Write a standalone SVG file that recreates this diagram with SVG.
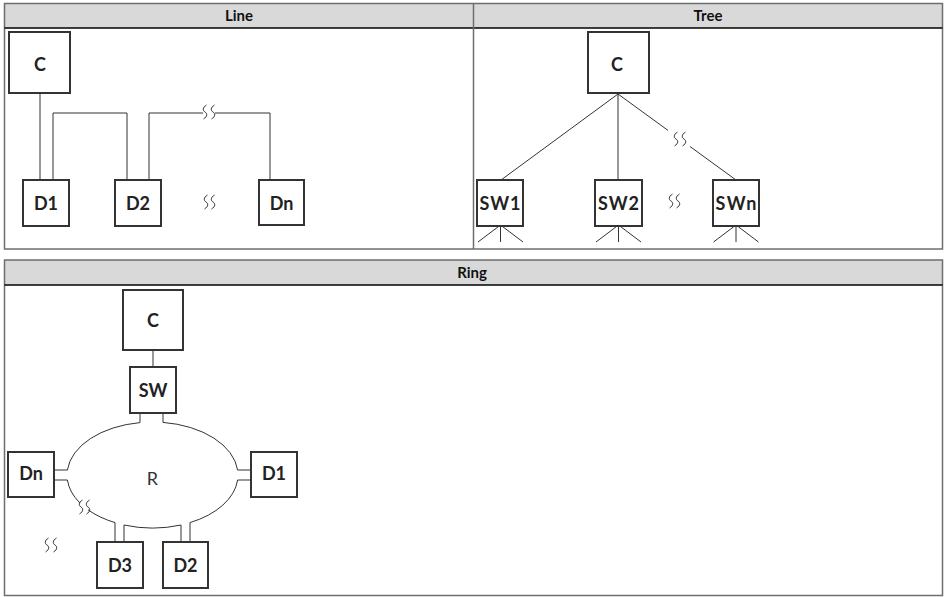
<svg xmlns="http://www.w3.org/2000/svg" xmlns:xlink="http://www.w3.org/1999/xlink" width="945" height="597" viewBox="0 0 945 597">
<style>
.tbl{fill:none;stroke:#6e6e6e;stroke-width:1.5}
.hdr{fill:#d9d9d9;stroke:none}
.sep{stroke:#000;stroke-width:1.5}
.box{fill:#fff;stroke:#333;stroke-width:2}
.lbl{font-family:Lato,"Open Sans","Liberation Sans",sans-serif;font-weight:bold;font-size:18px;fill:#222;text-anchor:middle}
.ht{font-family:Lato,"Open Sans","Liberation Sans",sans-serif;font-weight:bold;font-size:15px;fill:#111;text-anchor:middle}
.rt{font-family:Lato,"Open Sans","Liberation Sans",sans-serif;font-size:18px;fill:#333;text-anchor:middle}
.ln{fill:none;stroke:#333;stroke-width:1}
.sq{fill:none;stroke:#333;stroke-width:1}
</style>
<defs>
<path id="sq" class="sq" d="M1.5,-7 C-2.5,-4.5 -2.5,-1.5 0,0 C2.5,1.5 2.5,4.5 -1.5,7"/>
</defs>
<rect width="945" height="597" fill="#fff"/>
<g id="tables">
<rect class="hdr" x="4.5" y="3.5" width="938" height="24.5"/>
<rect class="tbl" x="4.5" y="3.5" width="938" height="245.5"/>
<line class="sep" x1="4.5" y1="28" x2="942.5" y2="28"/>
<line class="tbl" x1="473.5" y1="3.5" x2="473.5" y2="249"/>
<text class="ht" x="239" y="21">Line</text>
<text class="ht" x="708" y="21">Tree</text>
<rect class="hdr" x="4.5" y="260" width="938" height="25"/>
<rect class="tbl" x="4.5" y="260" width="938" height="335.5"/>
<line class="sep" x1="4.5" y1="285" x2="942.5" y2="285"/>
<text class="ht" x="472" y="278">Ring</text>
</g>
<g id="connectors">
<path class="ln" d="M40,93 V180"/>
<path class="ln" d="M53,180 V113 H127 V180"/>
<path class="ln" d="M149,180 V113 H203"/>
<path class="ln" d="M215,113 H270 V180"/>
<path class="ln" d="M618,94 L501,180"/>
<path class="ln" d="M618,94 V180"/>
<path class="ln" d="M618,94 L668,130.4"/>
<path class="ln" d="M690,146.5 L736,180"/>
<path class="ln" d="M500.5,225 V242 M500.5,225 L478,242 M500.5,225 L523,242"/>
<path class="ln" d="M618.5,225 V242 M618.5,225 L596,242 M618.5,225 L641,242"/>
<path class="ln" d="M736,225 V242 M736,225 L713.5,242 M736,225 L758.5,242"/>
<path class="ln" d="M153,350 V367"/>
<path class="ln" d="M163,422.4 A85.5 53 0 0 1 237.6,470"/>
<path class="ln" d="M237.6,480 A85.5 53 0 0 1 190,522.6"/>
<path class="ln" d="M181,525 A85.5 53 0 0 1 124,525"/>
<path class="ln" d="M115,522.6 A85.5 53 0 0 1 88,509.8"/>
<path class="ln" d="M80,503.1 A85.5 53 0 0 1 67.4,480"/>
<path class="ln" d="M67.4,470 A85.5 53 0 0 1 140,422.6"/>
<path class="ln" d="M140,413 V422.6 M163,413 V422.4"/>
<path class="ln" d="M237.6,470 H251 M237.6,480 H251"/>
<path class="ln" d="M54,470 H67.4 M54,480 H67.4"/>
<path class="ln" d="M115,522.6 V542 M124,525 V542"/>
<path class="ln" d="M181,525 V542 M190,522.6 V542"/>
<use xlink:href="#sq" x="205" y="112"/>
<use xlink:href="#sq" x="213" y="112"/>
<use xlink:href="#sq" x="206" y="202"/>
<use xlink:href="#sq" x="213" y="202"/>
<use xlink:href="#sq" x="676" y="139"/>
<use xlink:href="#sq" x="684" y="139"/>
<use xlink:href="#sq" x="671" y="201"/>
<use xlink:href="#sq" x="678" y="201"/>
<use xlink:href="#sq" x="81" y="507"/>
<use xlink:href="#sq" x="88" y="507"/>
<use xlink:href="#sq" x="47" y="545"/>
<use xlink:href="#sq" x="55" y="545"/>
</g>
<g id="line-C"><rect class="box" x="9" y="32" width="61" height="61"/><text class="lbl" x="40" y="71">C</text></g>
<g id="line-D1"><rect class="box" x="23" y="180" width="46" height="46"/><text class="lbl" x="46" y="210">D1</text></g>
<g id="line-D2"><rect class="box" x="115" y="180" width="46" height="46"/><text class="lbl" x="138" y="210">D2</text></g>
<g id="line-Dn"><rect class="box" x="259" y="180" width="45" height="45"/><text class="lbl" x="281.5" y="210">Dn</text></g>
<g id="tree-C"><rect class="box" x="588" y="32" width="61" height="61"/><text class="lbl" x="617" y="71">C</text></g>
<g id="tree-SW1"><rect class="box" x="477" y="180" width="46" height="46"/><text class="lbl" x="500" y="210" textLength="41" lengthAdjust="spacing">SW1</text></g>
<g id="tree-SW2"><rect class="box" x="595" y="180" width="47" height="46"/><text class="lbl" x="618.5" y="210" textLength="41" lengthAdjust="spacing">SW2</text></g>
<g id="tree-SWn"><rect class="box" x="713" y="180" width="46" height="46"/><text class="lbl" x="736" y="210" textLength="41" lengthAdjust="spacing">SWn</text></g>
<g id="ring-C"><rect class="box" x="123" y="290" width="60" height="60"/><text class="lbl" x="153" y="327">C</text></g>
<g id="ring-SW"><rect class="box" x="130" y="367" width="46" height="46"/><text class="lbl" x="153" y="397">SW</text></g>
<g id="ring-R"><text class="rt" x="152.5" y="485">R</text></g>
<g id="ring-Dn"><rect class="box" x="8" y="452" width="46" height="45"/><text class="lbl" x="31" y="480">Dn</text></g>
<g id="ring-D1"><rect class="box" x="251" y="452" width="46" height="45"/><text class="lbl" x="274" y="480">D1</text></g>
<g id="ring-D3"><rect class="box" x="97" y="542" width="46" height="46"/><text class="lbl" x="120" y="572">D3</text></g>
<g id="ring-D2"><rect class="box" x="163" y="542" width="45" height="46"/><text class="lbl" x="185.5" y="572">D2</text></g>
</svg>
